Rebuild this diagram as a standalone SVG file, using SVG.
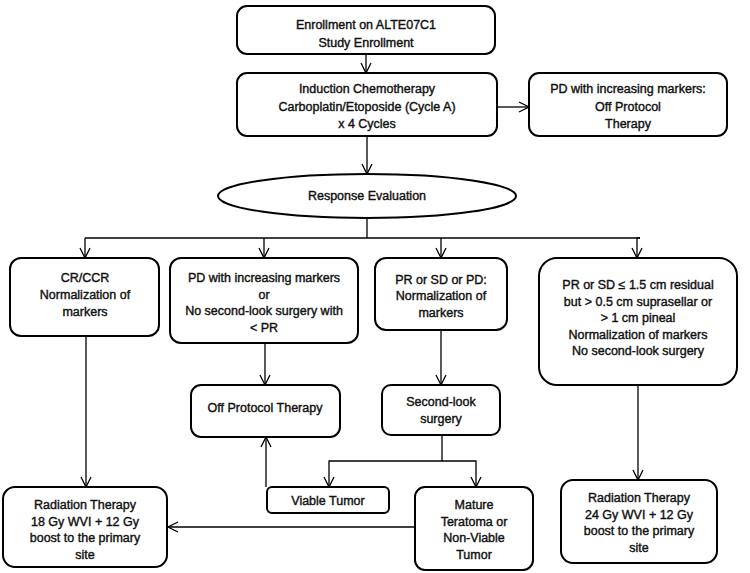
<svg xmlns="http://www.w3.org/2000/svg" width="750" height="573" viewBox="0 0 750 573">
<style>
.box{fill:#fff;stroke:#000;stroke-width:2}
.t{font-family:"Liberation Sans",Arial,sans-serif;font-size:12.5px;fill:#111;text-anchor:middle;stroke:#111;stroke-width:0.4}
.c{fill:none;stroke:#000;stroke-width:1.3}
</style>
<defs>
<marker id="a" viewBox="0 0 12 12" refX="11" refY="6" markerWidth="12" markerHeight="12" markerUnits="userSpaceOnUse" orient="auto">
<path d="M1,1 L11,6 L1,11" fill="none" stroke="#000" stroke-width="1.3"/>
</marker>
</defs>
<rect width="750" height="573" fill="#fff"/>
<g id="connectors">
<line class="c" x1="366" y1="54" x2="366" y2="73" marker-end="url(#a)"/>
<line class="c" x1="497" y1="107" x2="529" y2="107" marker-end="url(#a)"/>
<line class="c" x1="367" y1="137" x2="367" y2="174" marker-end="url(#a)"/>
<polyline class="c" points="367,217 367,238"/>
<line class="c" x1="85" y1="238" x2="640" y2="238"/>
<line class="c" x1="85" y1="238" x2="85" y2="258" marker-end="url(#a)"/>
<line class="c" x1="264" y1="238" x2="264" y2="258" marker-end="url(#a)"/>
<line class="c" x1="441" y1="238" x2="441" y2="258" marker-end="url(#a)"/>
<polyline class="c" points="640,238 637,238 637,258" marker-end="url(#a)"/>
<line class="c" x1="86" y1="336" x2="86" y2="487" marker-end="url(#a)"/>
<line class="c" x1="265" y1="343" x2="265" y2="385" marker-end="url(#a)"/>
<line class="c" x1="441" y1="330" x2="441" y2="385" marker-end="url(#a)"/>
<line class="c" x1="638" y1="385" x2="638" y2="480" marker-end="url(#a)"/>
<polyline class="c" points="442,435 442,461 329,461 329,487" marker-end="url(#a)"/>
<polyline class="c" points="442,461 476,461 476,487" marker-end="url(#a)"/>
<line class="c" x1="266" y1="487" x2="266" y2="437" marker-end="url(#a)"/>
<line class="c" x1="415" y1="527" x2="168" y2="527" marker-end="url(#a)"/>
</g>
<g id="enroll">
<rect class="box" x="237" y="6" width="258" height="48" rx="10"/>
<text class="t" x="366" y="29">Enrollment  on ALTE07C1</text>
<text class="t" x="366" y="47">Study Enrollment</text>
</g>
<g id="induction">
<rect class="box" x="237" y="73" width="260" height="63" rx="10"/>
<text class="t" x="367" y="93">Induction  Chemotherapy</text>
<text class="t" x="367" y="111">Carboplatin/Etoposide  (Cycle A)</text>
<text class="t" x="367" y="128">x 4 Cycles</text>
</g>
<g id="pd-off">
<rect class="box" x="529" y="73" width="198" height="63" rx="10"/>
<text class="t" x="628" y="93">PD with increasing  markers:</text>
<text class="t" x="628" y="111">Off Protocol</text>
<text class="t" x="628" y="128">Therapy</text>
</g>
<g id="response">
<ellipse class="box" cx="367" cy="196" rx="149" ry="22"/>
<text class="t" x="367" y="200">Response  Evaluation</text>
</g>
<g id="crccr">
<rect class="box" x="10" y="258" width="149" height="78" rx="11"/>
<text class="t" x="85" y="282">CR/CCR</text>
<text class="t" x="85" y="299">Normalization  of</text>
<text class="t" x="85" y="316">markers</text>
</g>
<g id="pd-inc">
<rect class="box" x="170" y="258" width="188" height="85" rx="11"/>
<text class="t" x="264" y="282">PD with increasing  markers</text>
<text class="t" x="264" y="299">or</text>
<text class="t" x="264" y="315">No second-look surgery with</text>
<text class="t" x="264" y="332">&lt; PR</text>
</g>
<g id="pr-sd-pd">
<rect class="box" x="375" y="258" width="132" height="72" rx="11"/>
<text class="t" x="441" y="284">PR or SD or PD:</text>
<text class="t" x="441" y="300">Normalization  of</text>
<text class="t" x="441" y="317">markers</text>
</g>
<g id="pr-sd-residual">
<rect class="box" x="539" y="258" width="198" height="127" rx="18"/>
<text class="t" x="638" y="289">PR or SD ≤ 1.5 cm residual</text>
<text class="t" x="638" y="306">but &gt; 0.5 cm suprasellar or</text>
<text class="t" x="638" y="322">&gt; 1 cm pineal</text>
<text class="t" x="638" y="339">Normalization  of markers</text>
<text class="t" x="638" y="355">No second-look  surgery</text>
</g>
<g id="off-protocol">
<rect class="box" x="191" y="385" width="149" height="52" rx="10"/>
<text class="t" x="265" y="412">Off Protocol  Therapy</text>
</g>
<g id="second-look">
<rect class="box" x="382" y="385" width="118" height="50" rx="9"/>
<text class="t" x="441" y="406">Second-look</text>
<text class="t" x="441" y="423">surgery</text>
</g>
<g id="viable">
<rect class="box" x="267" y="487" width="122" height="26" rx="5"/>
<text class="t" x="328" y="505">Viable Tumor</text>
</g>
<g id="mature">
<rect class="box" x="415" y="487" width="118" height="83" rx="10"/>
<text class="t" x="474" y="509">Mature</text>
<text class="t" x="474" y="526">Teratoma  or</text>
<text class="t" x="474" y="542">Non-Viable</text>
<text class="t" x="474" y="559">Tumor</text>
</g>
<g id="rt18">
<rect class="box" x="3" y="487" width="164" height="80" rx="12"/>
<text class="t" x="85" y="509">Radiation Therapy</text>
<text class="t" x="85" y="526">18 Gy WVI + 12 Gy</text>
<text class="t" x="85" y="542">boost to the primary</text>
<text class="t" x="85" y="559">site</text>
</g>
<g id="rt24">
<rect class="box" x="561" y="480" width="156" height="83" rx="12"/>
<text class="t" x="639" y="502">Radiation Therapy</text>
<text class="t" x="639" y="519">24 Gy WVI + 12 Gy</text>
<text class="t" x="639" y="535">boost to the primary</text>
<text class="t" x="639" y="552">site</text>
</g>
</svg>
